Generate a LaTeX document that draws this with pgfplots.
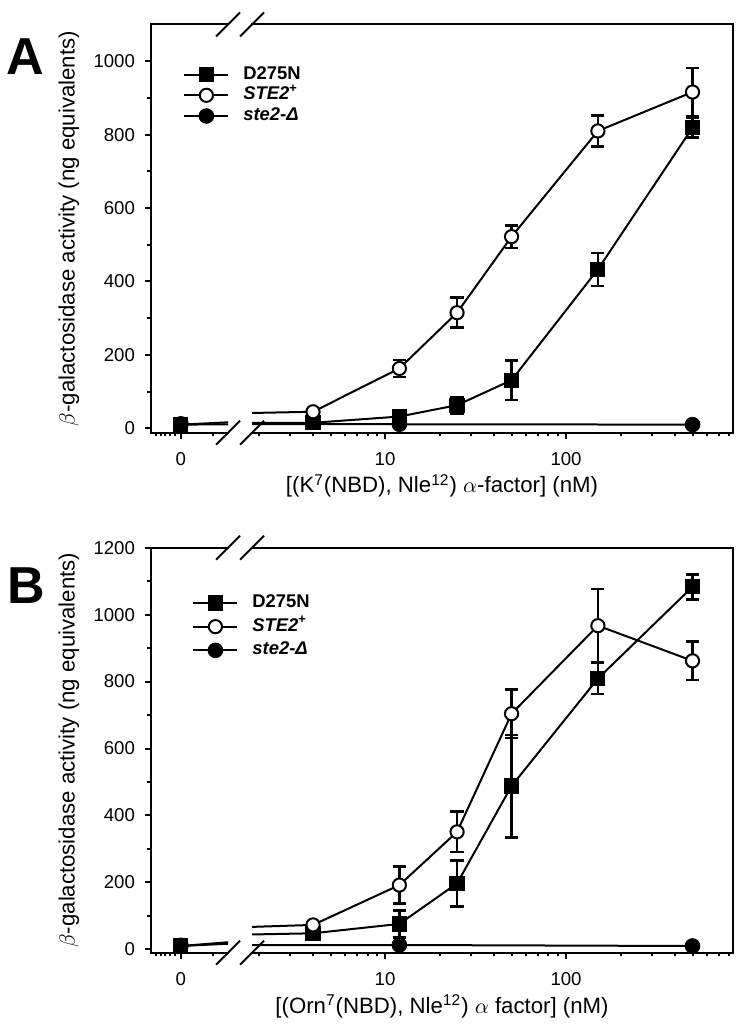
\documentclass[border=0pt]{standalone}
\usepackage{fontspec}
\setmainfont{Liberation Sans}
\usepackage{pgfplots}
\pgfplotsset{compat=1.18}
\usepackage{pgfplotstable}

% Panel A
\pgfplotstableread{
x y e
0 10 0
4 15 0
12 32 10
25 63 22
50 131 54
150 433 45
500 819 27
}\AD
\pgfplotstableread{
x y e
0 10 0
4 45 0
12 163 23
25 315 41
50 522 31
150 810 42
500 916 66
}\AS
\pgfplotstableread{
x y e
0 12 0
12 11 0
500 10 0
}\AN
% Panel B
\pgfplotstableread{
x y e
0 10 0
4 48 0
12 76 40
25 197 69
50 488 153
150 809 46
500 1083 37
}\BD
\pgfplotstableread{
x y e
0 10 0
4 73 0
12 192 55
25 351 60
50 704 72
150 967 110
500 862 57
}\BS
\pgfplotstableread{
x y e
0 12 0
12 13 0
500 10 0
}\BN

\pgfplotsset{
  base/.style={scale only axis, axis line style={draw=none},
    tick style={line width=1pt, black}, major tick length=3pt, minor tick length=1.8pt,
    tick align=outside,
    every tick label/.append style={font=\fontsize{9.3}{11}\selectfont},
    every axis label/.append style={font=\fontsize{11.1}{13}\selectfont},
    ticklabel style={/pgf/number format/assume math mode=true, /pgf/number format/set thousands separator={}},
    xticklabel style={yshift=-3.5pt},
    yticklabel style={xshift=-1.5pt},
    xtick pos=left, ytick pos=left, clip marker paths=false},
  leftax/.style={base,
    xmin=-0.45, xmax=0.71, xtick={0}, xticklabels={0},
    minor xtick={-0.369,-0.297,-0.234,-0.162,-0.0855,0.48},
    width=38.5pt},
  rightax/.style={base, ytick=\empty,
    x coord trafo/.code={\pgfmathparse{log10(max(##1,0.001))}},
    x coord inv trafo/.code={\pgfmathparse{10^##1}},
    xmin=1.84, xmax=837, xtick={10,100}, xticklabels={10,100},
    minor xtick={2,3,4,5,6,7,8,9,20,30,40,50,60,70,80,90,200,300,400,500,600,700,800},
    width=240.5pt},
  sq/.style={black, line width=1pt, mark=square*, mark size=3.3pt, mark options={solid, fill=black}},
  oc/.style={black, line width=1pt, mark=*, mark size=3.3pt, mark options={solid, fill=white}},
  fc/.style={black, line width=1pt, mark=*, mark size=3.4pt, mark options={solid, fill=black}},
  eb/.style={error bars/.cd, y dir=both, y explicit, error bar style={line width=1.3pt},
    error mark options={rotate=90, mark size=3.3pt, line width=1.3pt}},
  legimg/.style={legend image code/.code={\draw[mark repeat=2, mark phase=2, ##1] plot coordinates {(0pt,0pt) (11pt,0pt) (22pt,0pt)};}},
  legbase/.style={draw=none, fill=none, anchor=north west, inner sep=0pt,
    font=\fontsize{9.2}{10}\selectfont\bfseries,
    nodes={inner sep=0pt, text height=7pt, text depth=2.5pt},
    /tikz/every odd column/.append style={column sep=7pt}},
}

\begin{document}
\begin{tikzpicture}
\useasboundingbox (0,0) rectangle (375pt,514.5pt);

% ---------------- Panel A ----------------
\begin{axis}[leftax, name=AL, at={(75.5pt,298.15pt)}, anchor=south west, height=204.1pt,
  ymin=-12, ymax=1100, ytick={0,200,...,1000}, minor y tick num=1,
  ylabel={$\beta$-galactosidase activity (ng equivalents)},
  ylabel style={at={(axis description cs:-1.065,0.5)}, anchor=center}]
\addplot[sq, restrict x to domain=-1:5] table[x=x,y=y] {\AD};
\addplot[oc, restrict x to domain=-1:5] table[x=x,y=y] {\AS};
\addplot[fc, restrict x to domain=-1:5] table[x=x,y=y] {\AN};
\end{axis}

\begin{axis}[rightax, name=AR, at={(126pt,298.15pt)}, anchor=south west, height=204.1pt,
  ymin=-12, ymax=1100,
  xlabel={[(K\textsuperscript{7}(NBD), Nle\textsuperscript{12}) $\alpha$-factor] (nM)},
  xlabel style={at={(axis description cs:0.395,-0.1477)}, anchor=base},
  legimg, legend cell align=left,
  legend style={legbase, at={(-0.1435,0.9015)}, row sep=0.85pt}]
\addplot[sq, eb] table[x=x,y=y,y error=e] {\AD};
\addlegendentry{D275N}
\addplot[oc, eb] table[x=x,y=y,y error=e] {\AS};
\addlegendentry{\textit{STE2}\textsuperscript{+}}
\addplot[fc, eb] table[x=x,y=y,y error=e] {\AN};
\addlegendentry{\textit{ste2}-\textit{Δ}}
\end{axis}

% ---------------- Panel B ----------------
\begin{axis}[leftax, name=BL, at={(75.5pt,38.15pt)}, anchor=south west, height=202.5pt,
  ymin=-10, ymax=1200, ytick={0,200,...,1200}, minor y tick num=1,
  ylabel={$\beta$-galactosidase activity (ng equivalents)},
  ylabel style={at={(axis description cs:-1.065,0.5)}, anchor=center}]
\addplot[sq, restrict x to domain=-1:5] table[x=x,y=y] {\BD};
\addplot[oc, restrict x to domain=-1:5] table[x=x,y=y] {\BS};
\addplot[fc, restrict x to domain=-1:5] table[x=x,y=y] {\BN};
\end{axis}

\begin{axis}[rightax, name=BR, at={(126pt,38.15pt)}, anchor=south west, height=202.5pt,
  ymin=-10, ymax=1200,
  xlabel={[(Orn\textsuperscript{7}(NBD), Nle\textsuperscript{12}) $\alpha$ factor] (nM)},
  xlabel style={at={(axis description cs:0.395,-0.1496)}, anchor=base},
  legimg, legend cell align=left,
  legend style={legbase, at={(-0.1247,0.888)}, row sep=2.35pt}]
\addplot[sq, eb] table[x=x,y=y,y error=e] {\BD};
\addlegendentry{D275N}
\addplot[oc, eb] table[x=x,y=y,y error=e] {\BS};
\addlegendentry{\textit{STE2}\textsuperscript{+}}
\addplot[fc, eb] table[x=x,y=y,y error=e] {\BN};
\addlegendentry{\textit{ste2}-\textit{Δ}}
\end{axis}

% frames
\foreach \L/\R in {AL/AR,BL/BR}{
  \draw[line width=1pt, line cap=rect] (\L.north east) -- (\L.north west) -- (\L.south west) -- (\L.south east);
  \draw[line width=1pt, line cap=rect] (\R.north west) -- (\R.north east) -- (\R.south east) -- (\R.south west);
}
% break marks
\foreach \yy in {502.25pt,298.15pt,240.65pt,38.15pt}{
  \draw[line width=1pt] (108pt,\yy-6pt) -- (120pt,\yy+6pt);
  \draw[line width=1pt] (120pt,\yy-6pt) -- (132pt,\yy+6pt);
}

\node[font=\fontsize{26}{26}\selectfont\bfseries] at (12.5pt,486pt) {A};
\node[font=\fontsize{26}{26}\selectfont\bfseries] at (13pt,221.5pt) {B};
\end{tikzpicture}
\end{document}
